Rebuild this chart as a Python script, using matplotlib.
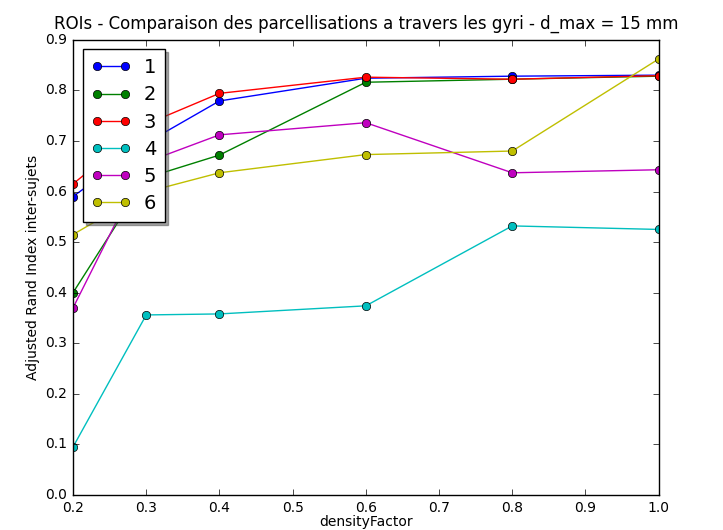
import matplotlib
matplotlib.use("Agg")
import matplotlib.pyplot as plt

plt.style.use("classic")

density = [0.2, 0.3, 0.4, 0.6, 0.8, 1.0]
labels = ["1", "2", "3", "4", "5", "6"]
colors = ["b", "g", "r", "c", "m", "y"]

s1 = [0.590, 0.696, 0.779, 0.824, 0.828, 0.830]
s2 = [0.400, 0.627, 0.672, 0.816, 0.822, 0.828]
s3 = [0.615, 0.733, 0.794, 0.826, 0.822, 0.829]
s4 = [0.095, 0.356, 0.358, 0.374, 0.532, 0.525]
s5 = [0.370, 0.658, 0.712, 0.736, 0.637, 0.643]
s6 = [0.515, 0.599, 0.637, 0.673, 0.680, 0.862]
series = [s1, s2, s3, s4, s5, s6]

fig = plt.figure(figsize=(7.23, 5.30), dpi=100, facecolor="white")
ax = fig.add_axes([0.101, 0.066, 0.81, 0.859])

for vals, lab, col in zip(series, labels, colors):
    ax.plot(density, vals, "o-", color=col, label=lab, markersize=6,
            linewidth=1, markeredgewidth=0.5)

ax.set_xlim(0.2, 1.0)
ax.set_ylim(0.0, 0.9)
ax.set_xticks([0.2, 0.3, 0.4, 0.5, 0.6, 0.7, 0.8, 0.9, 1.0])
ax.set_yticks([0.0, 0.1, 0.2, 0.3, 0.4, 0.5, 0.6, 0.7, 0.8, 0.9])
ax.tick_params(labelsize=10)
ax.set_xlabel("densityFactor", fontsize=10, labelpad=0)
ax.set_ylabel("Adjusted Rand Index inter-sujets", fontsize=10, labelpad=4)
ax.set_title("ROIs - Comparaison des parcellisations a travers les gyri - d_max = 15 mm",
             fontsize=12, y=1.01)

ax.legend(loc="upper left", shadow=True, numpoints=2, fontsize=14,
          borderaxespad=0.5, handlelength=2.0, labelspacing=0.42,
          handletextpad=0.7, borderpad=0.45)

fig.savefig("out.png", dpi=100, facecolor="white")
